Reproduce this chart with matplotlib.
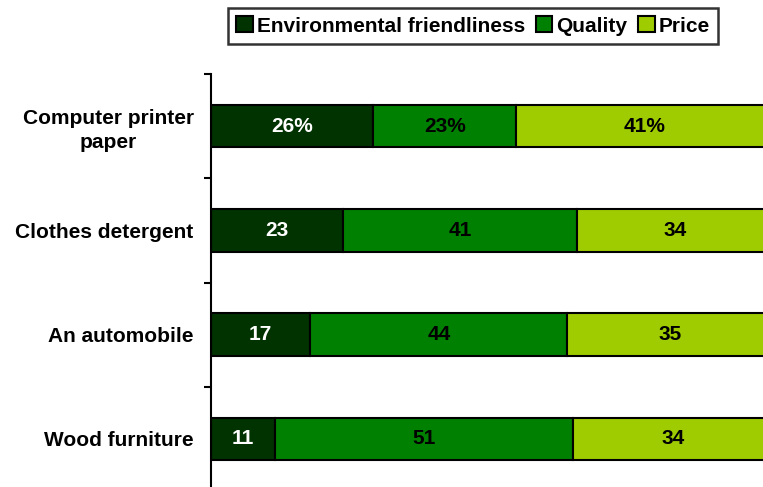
import matplotlib.pyplot as plt
import numpy as np

plt.rcParams['font.family'] = ['Liberation Sans', 'DejaVu Sans']
plt.rcParams['font.weight'] = 'bold'

# Data
categories = ['Computer printer\npaper', 'Clothes detergent', 'An automobile', 'Wood furniture']
series = ['Environmental friendliness', 'Quality', 'Price']
env = [26, 23, 17, 11]
quality = [23, 41, 44, 51]
price = [41, 34, 35, 34]
colors = ['#003300', '#008000', '#9ECC00']
text_colors = ['white', 'black', 'black']

values = np.array([env, quality, price], dtype=float)
totals = values.sum(axis=0)
shares = values / totals  # 100% stacked

fig = plt.figure(figsize=(7.63, 4.87), dpi=100)
# axes run a bit past the right and bottom edges, like the cropped original
ax = fig.add_axes([211 / 763, -4 / 487, 561 / 763, 417 / 487])

y = np.arange(len(categories))
left = np.zeros(len(categories))
for i, name in enumerate(series):
    ax.barh(y, shares[i], left=left, height=0.41, color=colors[i],
            edgecolor='black', linewidth=1.5, label=name)
    for j in range(len(categories)):
        txt = f'{int(values[i, j])}%' if j == 0 else f'{int(values[i, j])}'
        ax.text(left[j] + shares[i, j] / 2, y[j], txt, ha='center', va='center',
                color=text_colors[i], fontsize=15, fontweight='bold')
    left += shares[i]

ax.set_xlim(0, 1)
ax.set_ylim(len(categories) - 0.5, -0.5)

# tick marks at category boundaries, labels at centres
ax.set_yticks(np.arange(-0.5, len(categories)), labels=[])
ax.set_yticks(y, labels=categories, minor=True)
ax.tick_params(axis='y', which='major', length=5, width=1.5, direction='out')
ax.tick_params(axis='y', which='minor', length=0, pad=12.5, labelsize=15)
for lab in ax.get_yticklabels(minor=True):
    lab.set_multialignment('center')
    lab.set_linespacing(1.35)
    lab.set_fontweight('bold')
ax.set_xticks([])

for s in ['top', 'right', 'bottom']:
    ax.spines[s].set_visible(False)
ax.spines['left'].set_linewidth(1.5)

leg = fig.legend(loc='upper center', bbox_to_anchor=(473 / 763, 1 - 8 / 487), ncol=3,
                 frameon=True, fancybox=False, edgecolor='black', fontsize=15,
                 handlelength=0.8, handleheight=0.8, handletextpad=0.2,
                 columnspacing=0.5, borderpad=0.4, borderaxespad=0)
leg.get_frame().set_linewidth(1.8)
for t in leg.get_texts():
    t.set_fontweight('bold')

plt.savefig('out.png', dpi=100)
